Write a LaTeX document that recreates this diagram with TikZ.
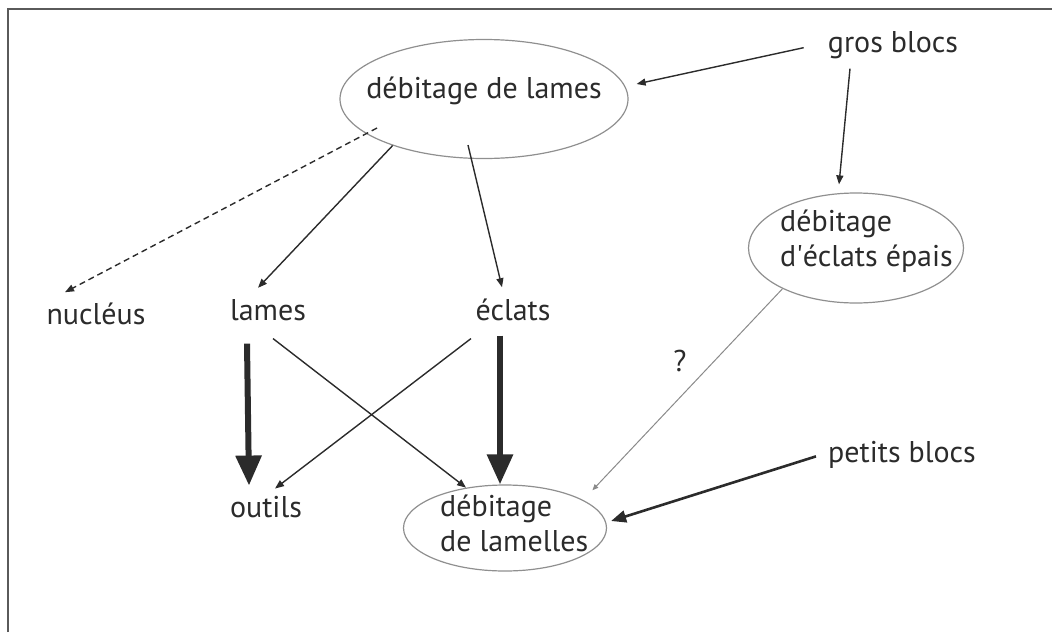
\documentclass[tikz,border=0pt]{standalone}
\usepackage{fontspec}
\setmainfont{PT Sans}
\usetikzlibrary{arrows.meta, shapes.geometric}
\definecolor{ink}{HTML}{2B2B2B}
\definecolor{rim}{HTML}{8F8F8F}
\definecolor{faint}{HTML}{8A8A8A}
\definecolor{framegray}{HTML}{5A5A5A}

\begin{document}
\begin{tikzpicture}[
    x=1pt, y=-1pt,
    item/.style={inner sep=0pt, text=ink, font=\fontsize{30}{35}\selectfont},
    blob/.style={ellipse, draw=rim, line width=1.2pt, inner sep=0pt},
    arrow/.style={-{Triangle[length=9pt, width=7pt]}, line width=1.4pt, draw=ink},
    heavy/.style={-{Triangle[length=30pt, width=25pt]}, line width=6pt, draw=ink},
    medium/.style={-{Triangle[length=15pt, width=12pt]}, line width=2.6pt, draw=ink},
    faintarrow/.style={-{Triangle[length=6pt, width=5pt]}, line width=1pt, draw=faint}
  ]
    \useasboundingbox (0,0) rectangle (1052,632);
    \draw[framegray, line width=2.5pt] (8,632) -- (8,9) -- (1052,9);

    \node[blob, minimum width=288pt, minimum height=119pt] (lameblob) at (484,99) {};
    \node[item, anchor=base] (lametext) at (484,98) {débitage de lames};
    \node[blob, minimum width=215pt, minimum height=110pt] (eclatblob) at (856,248) {};
    \node[item, anchor=north west, align=left] (eclattext) at (780,210) {débitage\\d\textquotesingle éclats épais};
    \node[blob, minimum width=203pt, minimum height=86pt] (lamelleblob) at (505,528) {};
    \node[item, anchor=north west, align=left] (lamelletext) at (440,495) {débitage\\de lamelles};

    \node[item, anchor=base] (gros) at (893,52) {gros blocs};
    \node[item, anchor=base] (nucleus) at (96,324) {nucléus};
    \node[item, anchor=base] (lames) at (268,320) {lames};
    \node[item, anchor=base] (eclats) at (513,320) {éclats};
    \node[item, anchor=base] (outils) at (266,517) {outils};
    \node[item, anchor=base] (petits) at (902,462) {petits blocs};
    \node[item, anchor=base] (doubt) at (680,371) {?};

    \draw[arrow] ([shift={(-24,3)}]gros.west) -- ([shift={(8,-15)}]lameblob.east);
    \draw[arrow] ([shift={(-43,10)}]gros.south) -- ([shift={(-17,-8)}]eclatblob.north);
    \draw[arrow, dashed, dash pattern=on 6pt off 4pt] ([shift={(-107,29)}]lameblob.center) -- ([shift={(-31,-10)}]nucleus.north);
    \draw[arrow] (lameblob.207) -- ([shift={(-10,-11)}]lames.north);
    \draw[arrow] ([shift={(-16,-14)}]lameblob.south) -- ([shift={(-11,-11)}]eclats.north);
    \draw[heavy] ([shift={(-21,23)}]lames.south) -- ([shift={(-17,-10)}]outils.north);
    \draw[heavy] ([shift={(-13,15)}]eclats.south) -- ([shift={(-5,0)}]lamelleblob.north);
    \draw[arrow] ([shift={(5,18)}]lames.south) -- (lamelleblob.134);
    \draw[arrow] ([shift={(-42,18)}]eclats.south) -- ([shift={(9,-7)}]outils.north);
    \draw[faintarrow] (eclatblob.209) -- ([shift={(15,-7)}]lamelleblob.23);
    \draw[medium] ([shift={(-12,2)}]petits.west) -- ([shift={(4,-7)}]lamelleblob.east);
  \end{tikzpicture}
\end{document}
